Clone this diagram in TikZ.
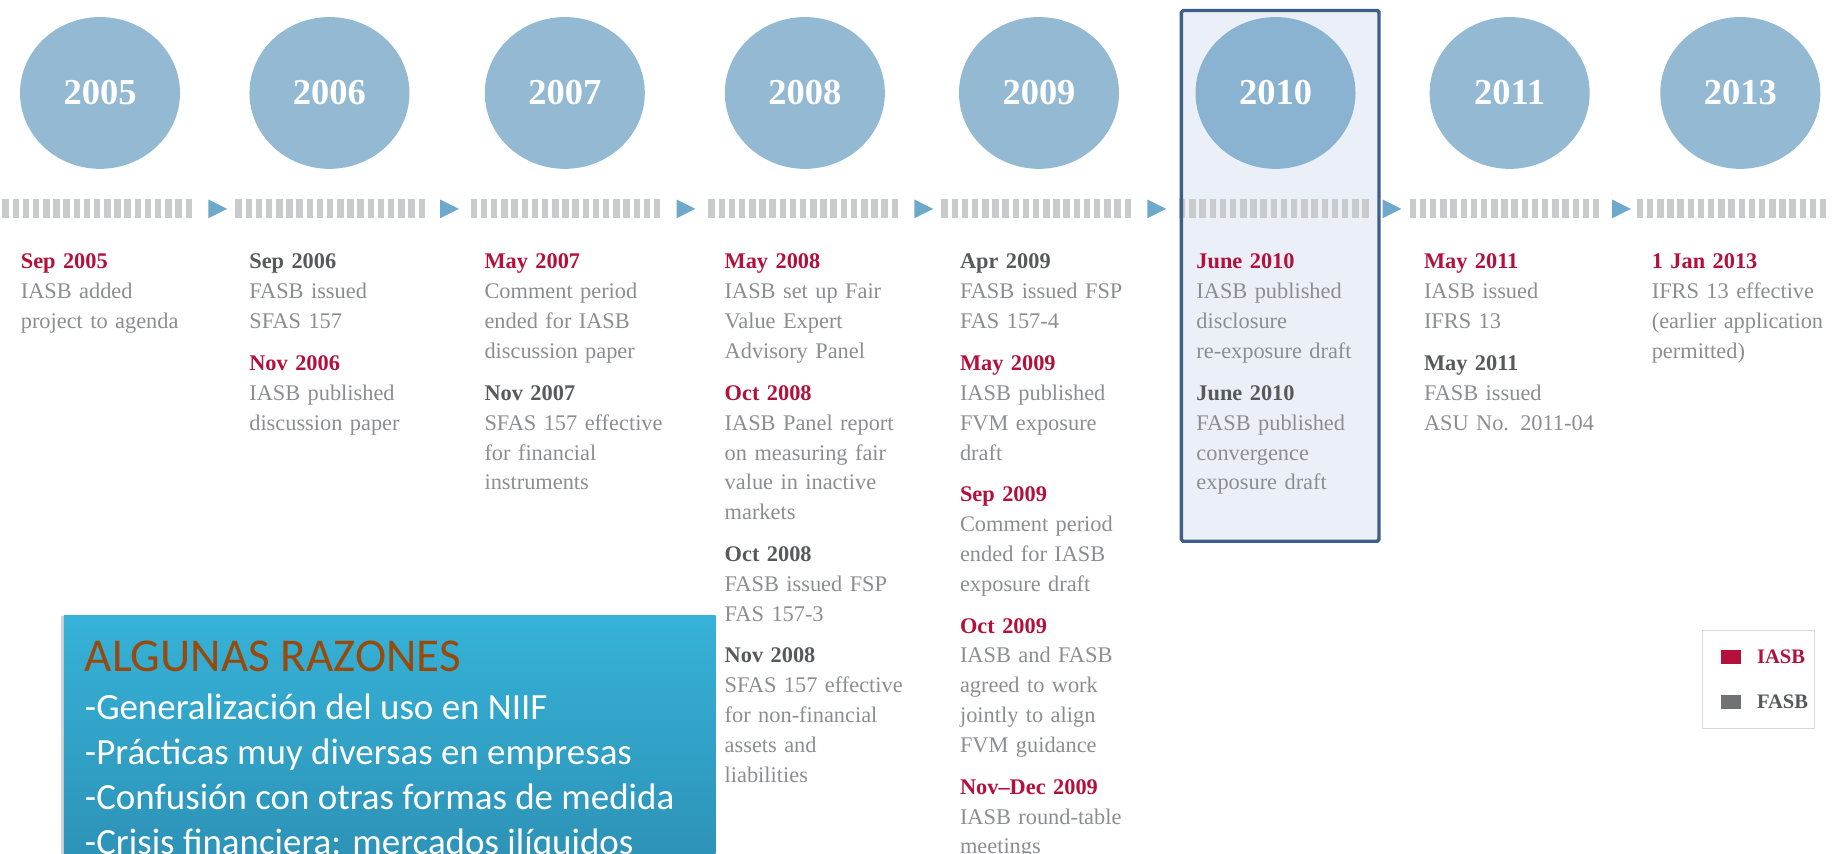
\documentclass[tikz,border=0pt]{standalone}
\usepackage{fontspec}
\setmainfont{Liberation Serif}
\newfontfamily\calibri{Carlito}
\usetikzlibrary{shapes,arrows,shadows}

\definecolor{circulo}{HTML}{94BAD3}
\definecolor{circuloact}{HTML}{8AB3D1}
\definecolor{barra}{HTML}{C9CACC}
\definecolor{flecha}{HTML}{6EA8CA}
\definecolor{rojo}{HTML}{B3103C}
\definecolor{gris}{HTML}{58595B}
\definecolor{texto}{HTML}{8C8D90}
\definecolor{marco}{HTML}{3E5F8A}
\definecolor{fondo}{HTML}{EBF0F8}
\definecolor{azularriba}{HTML}{36B2D8}
\definecolor{azulabajo}{HTML}{2B8AAE}
\definecolor{marron}{HTML}{974A0C}
\definecolor{borde}{HTML}{D8D8D8}

\newcommand{\fiasb}[1]{{\bfseries\color{rojo}#1}}
\newcommand{\ffasb}[1]{{\bfseries\color{gris}#1}}

\begin{document}
\begin{tikzpicture}[x=1pt,y=-1pt]
	\tikzstyle{anio}=[ellipse,fill=circulo,minimum width=136pt,minimum height=129pt,
	inner sep=0pt,text=white,font=\fontsize{31}{31}\selectfont\bfseries]
	\tikzstyle{hito}=[anchor=north west,inner sep=0pt,text width=185pt,align=left,
	text=texto,font=\fontsize{19}{25.4}\selectfont]
	\tikzstyle{razon}=[anchor=north west,inner sep=0pt,minimum width=554pt,
	minimum height=260pt,top color=azularriba,bottom color=azulabajo,
	drop shadow={shadow xshift=-2.5pt,shadow yshift=0pt,opacity=0.35}]
	\tikzstyle{cuadro}=[inner sep=0pt,minimum width=17pt,minimum height=12pt]
	\tikzstyle{etiq}=[anchor=base west,inner sep=0pt,font=\fontsize{17.5}{17.5}\selectfont\bfseries]

	\useasboundingbox (0,0) rectangle (1568,725);
	\clip (0,0) rectangle (1568,725);

	% fondo del 2010
	\fill[fondo] (1004,9) rectangle (1172,460);

	% anos
	\node[anio] (a2005) at (85,79) {2005};
	\node[anio] (a2006) at (280,79) {2006};
	\node[anio] (a2007) at (480,79) {2007};
	\node[anio] (a2008) at (684,79) {2008};
	\node[anio] (a2009) at (883,79) {2009};
	\node[anio,fill=circuloact] (a2010) at (1084,79) {2010};
	\node[anio] (a2011) at (1283,79) {2011};
	\node[anio] (a2013) at (1479,79) {2013};

	% linea de tiempo
	\foreach \s in {2,200,400,602,800,1002,1198,1391}
		\foreach \i in {0,...,18}
			\fill[barra] (\s+\i*8.65,169) rectangle ++(5.5,16.5);
	\foreach \t in {177,374,575,777,975,1175,1370}
		\fill[flecha] (\t,169.5) -- (\t+16,177.5) -- (\t,185.5) -- cycle;

	% hitos
	\node[hito] (h2005) at (17.5,210.6) {\strut\fiasb{Sep 2005}\\
	IASB added\\ project to agenda};
	\node[hito] (h2006) at (211.7,210.6) {\strut\ffasb{Sep 2006}\\
	FASB issued\\ SFAS 157\\[10pt]
	\fiasb{Nov 2006}\\ IASB published\\ discussion paper};
	\node[hito] (h2007) at (411.6,210.6) {\strut\fiasb{May 2007}\\
	Comment period\\ ended for IASB\\ discussion paper\\[10pt]
	\ffasb{Nov 2007}\\ SFAS 157 effective\\ for financial\\ instruments};
	\node[hito] (h2008) at (615.7,210.6) {\strut\fiasb{May 2008}\\
	IASB set up Fair\\ Value Expert\\ Advisory Panel\\[10pt]
	\fiasb{Oct 2008}\\ IASB Panel report\\ on measuring fair\\ value in inactive\\ markets\\[10pt]
	\ffasb{Oct 2008}\\ FASB issued FSP\\ FAS 157-3\\[10pt]
	\ffasb{Nov 2008}\\ SFAS 157 effective\\ for non-financial\\ assets and\\ liabilities};
	\node[hito] (h2009) at (815.7,210.6) {\strut\ffasb{Apr 2009}\\
	FASB issued FSP\\ FAS 157-4\\[10pt]
	\fiasb{May 2009}\\ IASB published\\ FVM exposure\\ draft\\[10pt]
	\fiasb{Sep 2009}\\ Comment period\\ ended for IASB\\ exposure draft\\[10pt]
	\fiasb{Oct 2009}\\ IASB and FASB\\ agreed to work\\ jointly to align\\ FVM guidance\\[10pt]
	\fiasb{Nov–Dec 2009}\\ IASB round-table\\ meetings};
	\node[hito] (h2010) at (1016.6,210.6) {\strut\fiasb{June 2010}\\
	IASB published\\ disclosure\\ re-exposure draft\\[10pt]
	\ffasb{June 2010}\\ FASB published\\ convergence\\ exposure draft};
	\node[hito] (h2011) at (1210,210.6) {\strut\fiasb{May 2011}\\
	IASB issued\\ IFRS 13\\[10pt]
	\ffasb{May 2011}\\ FASB issued\\ ASU No. 2011-04};
	\node[hito] (h2013) at (1403.6,210.6) {\strut\fiasb{1 Jan 2013}\\
	IFRS 13 effective\\ (earlier application\\ permitted)};

	% marco del 2010
	\draw[marco,line width=2.8pt,rounded corners=1.5pt] (1004,9) rectangle (1172,460);

	% leyenda
	\node[draw=borde,line width=1pt,inner sep=0pt,minimum width=95pt,
	minimum height=83pt] (leyenda) at (1494.5,577.5) {};
	\node[cuadro,fill=rojo] (ciasb) at (1471.5,558) {};
	\node[cuadro,fill=gris!85] (cfasb) at (1471.5,596.5) {};
	\node[etiq,text=rojo] (tiasb) at (1493,563.8) {IASB};
	\node[etiq,text=gris] (tfasb) at (1493,601.8) {FASB};

	% algunas razones
	\node[razon] (razones) at (54,523) {};
	\node[anchor=base west,inner sep=0pt,text=marron,
	font=\calibri\fontsize{40}{40}\selectfont] (titulo) at (72,571) {ALGUNAS RAZONES};
	\node[anchor=north west,inner sep=0pt,align=left,text=white,
	font=\calibri\fontsize{31.4}{38.2}\selectfont] (lista) at (72,584.3)
	{\strut-Generalización del uso en NIIF\\
	-Prácticas muy diversas en empresas\\
	-Confusión con otras formas de medida\\
	-Crisis financiera: mercados ilíquidos};
\end{tikzpicture}
\end{document}
